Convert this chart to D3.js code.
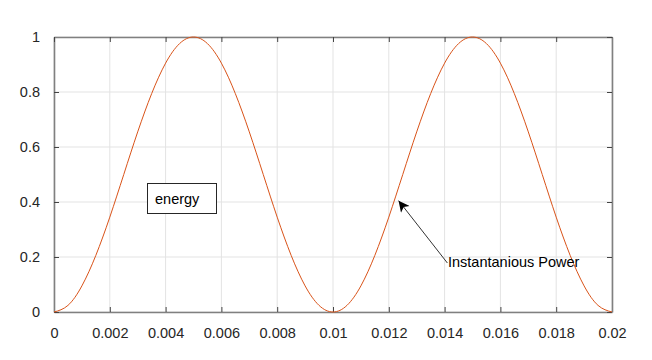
<!DOCTYPE html>
<html><head><meta charset="utf-8">
<script src="https://cdn.jsdelivr.net/npm/d3@7"></script>
<style>body{margin:0;background:#fff}svg{display:block}text{font-family:"Liberation Sans",Arial,sans-serif}</style>
</head><body>
<svg id="c" width="652" height="360"></svg>
<script>
// time samples (s)
const times = [0,0.0005,0.001,0.0015,0.002,0.0025,0.003,0.0035,0.004,0.0045,0.005,0.0055,0.006,0.0065,0.007,0.0075,0.008,0.0085,0.009,0.0095,0.01,0.0105,0.011,0.0115,0.012,0.0125,0.013,0.0135,0.014,0.0145,0.015,0.0155,0.016,0.0165,0.017,0.0175,0.018,0.0185,0.019,0.0195,0.02];
// instantaneous power values
const power = [0,0.024,0.095,0.206,0.345,0.5,0.655,0.794,0.905,0.976,1,0.976,0.905,0.794,0.655,0.5,0.345,0.206,0.095,0.024,0,0.024,0.095,0.206,0.345,0.5,0.655,0.794,0.905,0.976,1,0.976,0.905,0.794,0.655,0.5,0.345,0.206,0.095,0.024,0];
const xTicks = [0,0.002,0.004,0.006,0.008,0.01,0.012,0.014,0.016,0.018,0.02];
const xTickLabels = ["0","0.002","0.004","0.006","0.008","0.01","0.012","0.014","0.016","0.018","0.02"];
const yTicks = [0,0.2,0.4,0.6,0.8,1];
const yTickLabels = ["0","0.2","0.4","0.6","0.8","1"];
const boxLabel = "energy";
const annotationText = "Instantanious Power";
const arrowFrom = [0.0141, 0.2];
const arrowTo = [0.01235, 0.405];

const svg = d3.select("#c");
const L=54, R=612, T=37, B=312;
const x = d3.scaleLinear().domain([0,0.02]).range([L,R]);
const y = d3.scaleLinear().domain([0,1]).range([B,T]);

// grid
const g = svg.append("g");
g.selectAll(".gx").data(xTicks).join("line")
  .attr("x1",d=>x(d)).attr("x2",d=>x(d)).attr("y1",T).attr("y2",B)
  .attr("stroke","#e3e3e3").attr("stroke-width",1);
g.selectAll(".gy").data(yTicks).join("line")
  .attr("y1",d=>y(d)).attr("y2",d=>y(d)).attr("x1",L).attr("x2",R)
  .attr("stroke","#e3e3e3").attr("stroke-width",1);

// axes
const ax = d3.axisBottom(x).tickValues(xTicks).tickFormat((d,i)=>xTickLabels[i]).tickSizeInner(-5).tickSizeOuter(0).tickPadding(16);
const ay = d3.axisLeft(y).tickValues(yTicks).tickFormat((d,i)=>yTickLabels[i]).tickSizeInner(-5).tickSizeOuter(0).tickPadding(14);
const ax2 = d3.axisTop(x).tickValues(xTicks).tickFormat("").tickSizeInner(-5).tickSizeOuter(0);
const ay2 = d3.axisRight(y).tickValues(yTicks).tickFormat("").tickSizeInner(-5).tickSizeOuter(0);
function style(sel){
  sel.select(".domain").attr("stroke","#808080").attr("stroke-width",1.6);
  sel.selectAll(".tick line").attr("stroke","#444").attr("stroke-width",1);
  sel.selectAll(".tick text").attr("fill","#262626").attr("font-size","14.5px");
}
svg.append("g").attr("transform",`translate(0,${B})`).call(ax).call(style);
svg.append("g").attr("transform",`translate(${L},0)`).call(ay).call(style);
svg.append("g").attr("transform",`translate(0,${T})`).call(ax2).call(style);
svg.append("g").attr("transform",`translate(${R},0)`).call(ay2).call(style);

// curve
const line = d3.line().x((d,i)=>x(times[i])).y(d=>y(d)).curve(d3.curveNatural);
svg.append("path").datum(power).attr("d",line).attr("fill","none")
  .attr("stroke","#D95319").attr("stroke-width",1);

// energy box
svg.append("rect").attr("x",147.5).attr("y",183.5).attr("width",69).attr("height",30)
  .attr("fill","#fff").attr("stroke","#262626").attr("stroke-width",1);
svg.append("text").attr("x",155).attr("y",204).attr("font-size","14.5px").attr("fill","#000").text(boxLabel);

// arrow
svg.append("defs").append("marker").attr("id","ah").attr("viewBox","0 0 10 10").attr("refX",10).attr("refY",5)
  .attr("markerWidth",13).attr("markerHeight",11).attr("markerUnits","userSpaceOnUse").attr("orient","auto")
  .append("path").attr("d","M0,0 L10,5 L0,10 L2.5,5 Z").attr("fill","#000");
svg.append("line").attr("x1",x(arrowFrom[0])).attr("y1",y(arrowFrom[1])+6)
  .attr("x2",x(arrowTo[0])).attr("y2",y(arrowTo[1]))
  .attr("stroke","#333").attr("stroke-width",1).attr("marker-end","url(#ah)");
svg.append("text").attr("x",448).attr("y",267).attr("font-size","14.5px").attr("fill","#000").text(annotationText);
</script>
</body></html>
